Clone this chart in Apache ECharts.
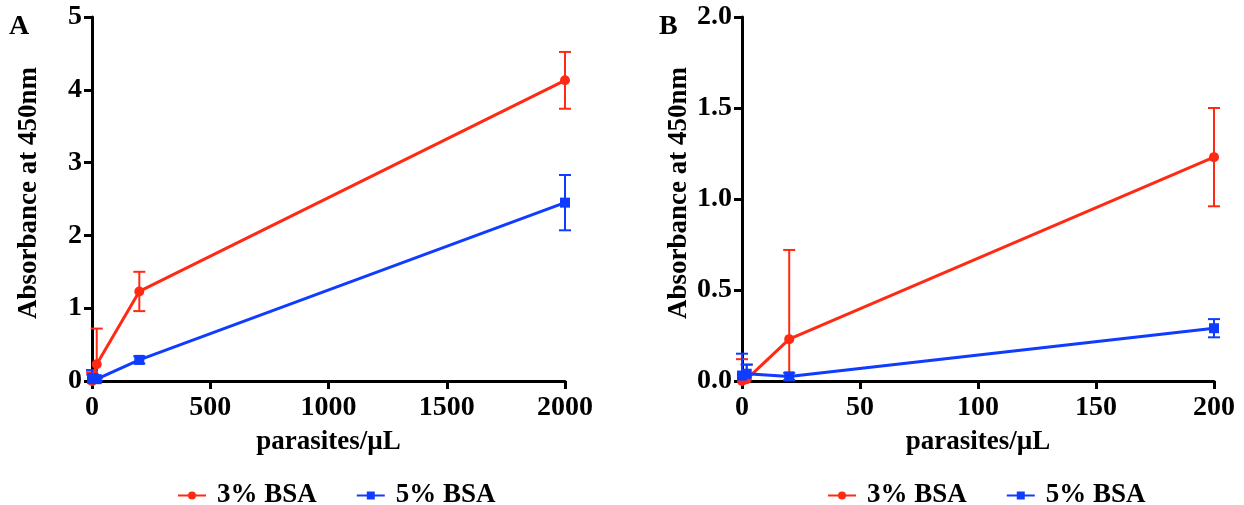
<!DOCTYPE html>
<html>
<head>
<meta charset="utf-8">
<script src="https://cdn.jsdelivr.net/npm/echarts@6/dist/echarts.min.js"></script>
<style>html,body{margin:0;padding:0;background:#fff}#c{width:1244px;height:505px}</style>
</head>
<body>
<div id="c"></div>
<script>
// Data (x = parasites/µL)
var xValues = [0, 2, 20, 200, 2000];
var bsa3 = [0.00, 0.01, 0.23, 1.23, 4.13];
var bsa3Err = [0.12, 0.08, 0.49, 0.27, 0.39];
var bsa5 = [0.03, 0.04, 0.025, 0.29, 2.45];
var bsa5Err = [0.12, 0.05, 0.02, 0.05, 0.38];
var seriesNames = ['3% BSA', '5% BSA'];
var panelLetters = ['A', 'B'];
var xTitle = 'parasites/µL';
var yTitle = 'Absorbance at 450nm';
var xMaxA = 2000, xMaxB = 200;

var RED = '#FF2A14', BLUE = '#0F3CFF';
var FONT = '"Liberation Serif", "Times New Roman", serif';

function pts(vals, xmax) {
  var out = [];
  for (var i = 0; i < xValues.length; i++) if (xValues[i] <= xmax) out.push([xValues[i], vals[i]]);
  return out;
}
function errPts(vals, errs, xmax) {
  var out = [];
  for (var i = 0; i < xValues.length; i++) if (xValues[i] <= xmax) out.push([xValues[i], vals[i] - errs[i], vals[i] + errs[i]]);
  return out;
}
function errRender(color) {
  return function (params, api) {
    var x = api.value(0), lo = api.value(1), hi = api.value(2);
    var pLo = api.coord([x, Math.max(lo, 0)]);
    var pHi = api.coord([x, hi]);
    var hw = 6;
    var st = { stroke: color, lineWidth: 2 };
    return { type: 'group', children: [
      { type: 'line', shape: { x1: pLo[0], y1: pLo[1], x2: pHi[0], y2: pHi[1] }, style: st },
      { type: 'line', shape: { x1: pHi[0] - hw, y1: pHi[1], x2: pHi[0] + hw, y2: pHi[1] }, style: st },
      lo > 0 ? { type: 'line', shape: { x1: pLo[0] - hw, y1: pLo[1], x2: pLo[0] + hw, y2: pLo[1] }, style: st } : { type: 'group', children: [] }
    ]};
  };
}
var axisLineStyle = { lineStyle: { color: '#000', width: 3 } };
var tickStyle = { show: true, length: 8, lineStyle: { color: '#000', width: 3 } };
var labelStyle = { color: '#000', fontFamily: FONT, fontWeight: 'bold', fontSize: 28 };
var nameStyle = { color: '#000', fontFamily: FONT, fontWeight: 'bold', fontSize: 27 };

function xAxis(idx, max, interval) {
  return { type: 'value', gridIndex: idx, min: 0, max: max, interval: interval,
    axisLine: axisLineStyle, axisTick: tickStyle,
    axisLabel: Object.assign({ margin: 13, formatter: function (v) { return String(v); } }, labelStyle),
    splitLine: { show: false }, name: xTitle, nameLocation: 'middle', nameGap: 48, nameTextStyle: nameStyle };
}
function yAxis(idx, max, interval, dec) {
  return { type: 'value', gridIndex: idx, min: 0, max: max, interval: interval,
    axisLine: Object.assign({ show: true }, axisLineStyle), axisTick: tickStyle,
    axisLabel: Object.assign({ margin: 10, formatter: function (v) { return v.toFixed(dec); } }, labelStyle),
    splitLine: { show: false }, name: yTitle, nameLocation: 'middle', nameGap: 49,
    nameTextStyle: Object.assign({ padding: [0, 0, 0, 12] }, nameStyle) };
}
function lineSeries(name, vals, xmax, idx, color, symbol, size) {
  return { type: 'line', name: name, xAxisIndex: idx, yAxisIndex: idx, data: pts(vals, xmax),
    symbol: symbol, symbolSize: size, showSymbol: true, clip: false, z: 3,
    lineStyle: { color: color, width: 3 }, itemStyle: { color: color } };
}
function errSeries(name, vals, errs, xmax, idx, color) {
  return { type: 'custom', name: name + ' err', xAxisIndex: idx, yAxisIndex: idx, clip: false, z: 2,
    renderItem: errRender(color), data: errPts(vals, errs, xmax), encode: { x: 0, y: [1, 2] } };
}

var chart = echarts.init(document.getElementById('c'), null, { renderer: 'canvas' });
var legendText = { color: '#000', fontFamily: FONT, fontWeight: 'bold', fontSize: 27, padding: [0, 0, 0, 6] };
chart.setOption({
  animation: false,
  backgroundColor: '#fff',
  grid: [
    { left: 92, top: 17, width: 473, height: 364 },
    { left: 742, top: 17, width: 472, height: 364 }
  ],
  xAxis: [xAxis(0, xMaxA, 500), xAxis(1, xMaxB, 50)],
  yAxis: [yAxis(0, 5, 1, 0), yAxis(1, 2, 0.5, 1)],
  legend: [
    { data: seriesNames, left: 172, top: 477, itemWidth: 28, itemHeight: 10, itemGap: 39, textStyle: legendText },
    { data: seriesNames, left: 822, top: 477, itemWidth: 28, itemHeight: 10, itemGap: 39, textStyle: legendText }
  ],
  graphic: [
    { type: 'text', left: 9, top: 13, style: { text: panelLetters[0], font: 'bold 28px "Liberation Serif"', fill: '#000' } },
    { type: 'text', left: 659, top: 13, style: { text: panelLetters[1], font: 'bold 28px "Liberation Serif"', fill: '#000' } }
  ],
  series: [
    errSeries(seriesNames[0], bsa3, bsa3Err, xMaxA, 0, RED),
    errSeries(seriesNames[1], bsa5, bsa5Err, xMaxA, 0, BLUE),
    lineSeries(seriesNames[0], bsa3, xMaxA, 0, RED, 'circle', 10),
    lineSeries(seriesNames[1], bsa5, xMaxA, 0, BLUE, 'rect', 10),
    errSeries(seriesNames[0], bsa3, bsa3Err, xMaxB, 1, RED),
    errSeries(seriesNames[1], bsa5, bsa5Err, xMaxB, 1, BLUE),
    lineSeries(seriesNames[0], bsa3, xMaxB, 1, RED, 'circle', 10),
    lineSeries(seriesNames[1], bsa5, xMaxB, 1, BLUE, 'rect', 10)
  ]
});
</script>
</body>
</html>
